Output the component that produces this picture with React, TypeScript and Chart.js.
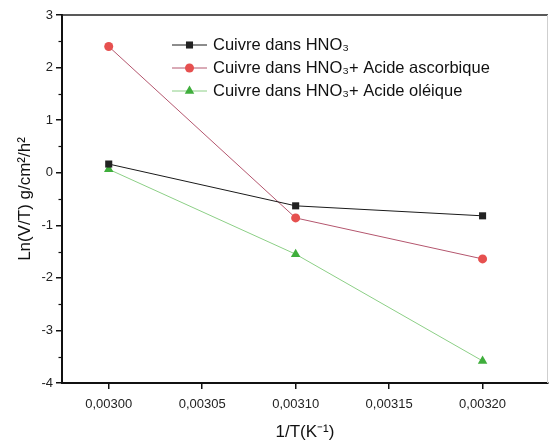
import React, { useEffect, useRef } from 'react';
import { Chart, registerables } from 'chart.js';

Chart.register(...registerables);

// ---- data ----
const xValues = [0.003, 0.0031, 0.0032];
const seriesLabels = [
  'Cuivre dans HNO₃',
  'Cuivre dans HNO₃+ Acide ascorbique',
  'Cuivre dans HNO₃+ Acide oléique',
];
const cuivreHNO3 = [0.165, -0.63, -0.82];
const cuivreAscorbique = [2.4, -0.86, -1.64];
const cuivreOleique = [0.065, -1.55, -3.58];
const xTicks = [0.003, 0.00305, 0.0031, 0.00315, 0.0032];
const yTicks = [-4, -3, -2, -1, 0, 1, 2, 3];
const yMinorTicks = [-3.5, -2.5, -1.5, -0.5, 0.5, 1.5, 2.5];
const xTitle = '1/T(K⁻¹)';
const yTitle = 'Ln(V/T) g/cm²/h²';

const FONT = "'Liberation Sans', Arial, sans-serif";

const styles = [
  { line: '#1a1a1a', fill: '#222222', border: '#111111', shape: 'rect', radius: 5 },
  { line: '#b4566e', fill: '#e6504f', border: '#e6504f', shape: 'circle', radius: 4.5 },
  { line: '#8ccf86', fill: '#3fae3c', border: '#3fae3c', shape: 'triangle', radius: 5.5 },
];

function drawMarker(ctx: CanvasRenderingContext2D, shape: string, x: number, y: number, r: number, fill: string) {
  ctx.save();
  ctx.fillStyle = fill;
  ctx.beginPath();
  if (shape === 'rect') {
    const s = r * Math.SQRT1_2;
    ctx.rect(x - s, y - s, 2 * s, 2 * s);
  } else if (shape === 'circle') {
    ctx.arc(x, y, r, 0, Math.PI * 2);
  } else {
    ctx.moveTo(x, y - r);
    ctx.lineTo(x + r * 0.866, y + r * 0.5);
    ctx.lineTo(x - r * 0.866, y + r * 0.5);
    ctx.closePath();
  }
  ctx.fill();
  ctx.restore();
}

const framePlugin = {
  id: 'frameAndLegend',
  afterDraw(chart: any) {
    const { ctx, chartArea } = chart;
    const y = chart.scales.y;
    ctx.save();
    // top border
    ctx.strokeStyle = '#222';
    ctx.lineWidth = 1.5;
    ctx.beginPath();
    ctx.moveTo(chartArea.left, chartArea.top);
    ctx.lineTo(chartArea.right, chartArea.top);
    ctx.stroke();
    // right border (faint)
    ctx.strokeStyle = '#cfcfcf';
    ctx.lineWidth = 1;
    ctx.beginPath();
    ctx.moveTo(chartArea.right - 0.5, chartArea.top);
    ctx.lineTo(chartArea.right - 0.5, chartArea.bottom);
    ctx.stroke();
    // minor y ticks
    ctx.strokeStyle = '#111';
    ctx.lineWidth = 1.2;
    for (const v of yMinorTicks) {
      const py = Math.round(y.getPixelForValue(v)) + 0.5;
      ctx.beginPath();
      ctx.moveTo(chartArea.left - 3.5, py);
      ctx.lineTo(chartArea.left, py);
      ctx.stroke();
    }
    // legend
    const lx = 172;
    const lineLen = 35;
    const rowY = [45, 68, 91];
    ctx.font = `16.5px ${FONT}`;
    ctx.textBaseline = 'middle';
    ctx.textAlign = 'left';
    chart.data.datasets.forEach((ds: any, i: number) => {
      const st = styles[i];
      const yy = rowY[i];
      ctx.strokeStyle = st.line;
      ctx.lineWidth = 1;
      ctx.beginPath();
      ctx.moveTo(lx, yy);
      ctx.lineTo(lx + lineLen, yy);
      ctx.stroke();
      drawMarker(ctx, st.shape, lx + lineLen / 2, yy, st.radius, st.fill);
      ctx.fillStyle = '#111';
      ctx.fillText(ds.label, lx + lineLen + 6, yy);
    });
    ctx.restore();
  },
};

export default function App() {
  const ref = useRef<HTMLCanvasElement | null>(null);

  useEffect(() => {
    if (!ref.current) return;
    const mk = (vals: number[]) => xValues.map((x, i) => ({ x, y: vals[i] }));
    const all = [cuivreHNO3, cuivreAscorbique, cuivreOleique];
    const chart = new Chart(ref.current, {
      type: 'line',
      data: {
        datasets: all.map((vals, i) => ({
          label: seriesLabels[i],
          data: mk(vals),
          borderColor: styles[i].line,
          borderWidth: 1,
          backgroundColor: styles[i].fill,
          pointBackgroundColor: styles[i].fill,
          pointBorderColor: styles[i].border,
          pointBorderWidth: 0,
          pointStyle: styles[i].shape as any,
          pointRadius: styles[i].radius,
          tension: 0,
          fill: false,
          clip: false as any,
        })),
      },
      options: {
        animation: false,
        responsive: false,
        layout: { autoPadding: false, padding: { left: 0, top: 15, right: 1, bottom: 0 } },
        plugins: { legend: { display: false }, tooltip: { enabled: false } },
        scales: {
          x: {
            type: 'linear',
            min: 0.002975,
            max: 0.003235,
            afterBuildTicks: (s: any) => {
              s.ticks = xTicks.map((v) => ({ value: v }));
            },
            afterFit: (s: any) => {
              s.height = 62;
              s.paddingLeft = 0;
              s.paddingRight = 0;
            },
            ticks: {
              callback: (v: any) => Number(v).toFixed(5).replace('.', ','),
              font: { family: FONT, size: 13 },
              color: '#222',
              padding: 8,
              maxRotation: 0,
              autoSkip: false,
            },
            grid: { drawOnChartArea: false, drawTicks: true, tickLength: 6, color: '#111', lineWidth: 1.5 },
            border: { display: true, color: '#111', width: 2 },
            title: {
              display: true,
              text: xTitle,
              font: { family: FONT, size: 17 },
              color: '#111',
              padding: { top: 0, bottom: 2 },
            },
          },
          y: {
            type: 'linear',
            min: -4,
            max: 3,
            afterBuildTicks: (s: any) => {
              s.ticks = yTicks.map((v) => ({ value: v }));
            },
            afterFit: (s: any) => {
              s.width = 62;
              s.paddingTop = 0;
              s.paddingBottom = 0;
            },
            ticks: {
              callback: (v: any) => String(v),
              font: { family: FONT, size: 13 },
              color: '#222',
              padding: 3,
              autoSkip: false,
            },
            grid: { drawOnChartArea: false, drawTicks: true, tickLength: 6, color: '#111', lineWidth: 1.5 },
            border: { display: true, color: '#111', width: 2 },
            title: {
              display: true,
              text: yTitle,
              font: { family: FONT, size: 17 },
              color: '#111',
              padding: { top: 15, bottom: 0 },
            },
          },
        },
      },
      plugins: [framePlugin],
    });
    return () => chart.destroy();
  }, []);

  return (
    <div style={{ position: 'fixed', left: 0, top: 0, width: 549, height: 445, overflow: 'hidden', background: '#fff' }}>
      <canvas ref={ref} width={549} height={445} style={{ display: 'block' }} />
    </div>
  );
}
